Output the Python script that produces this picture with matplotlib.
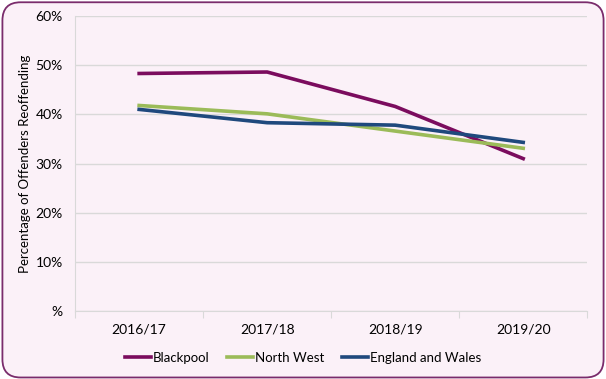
import matplotlib.pyplot as plt
from matplotlib.patches import FancyBboxPatch
from matplotlib.ticker import FuncFormatter

# -----------------------------------------
# Data
# -----------------------------------------
years = ["2016/17", "2017/18", "2018/19", "2019/20"]
blackpool = [48.3, 48.6, 41.6, 31.0]
north_west = [41.8, 40.1, 36.6, 33.1]
england_wales = [41.0, 38.3, 37.8, 34.3]

# -----------------------------------------
# Style
# -----------------------------------------
plt.rcParams["font.family"] = ["Lato", "DejaVu Sans"]
bg = "#FBF1F8"

fig = plt.figure(figsize=(6.06, 3.79), dpi=100)
fig.patch.set_facecolor("white")

# Rounded purple frame (behind the axes)
frame = FancyBboxPatch(
    (0.004, 0.004), 0.992, 0.990,
    boxstyle="round,pad=0,rounding_size=0.03",
    transform=fig.transFigure,
    facecolor=bg, edgecolor="#7A2C6C", linewidth=1.3,
    mutation_aspect=606 / 379, zorder=-10,
)
fig.patches.append(frame)

ax = fig.add_axes([0.124, 0.179, 0.845, 0.779])
ax.set_facecolor(bg)

x = list(range(len(years)))
ax.plot(x, blackpool, color="#7B0C5E", lw=2.6, label="Blackpool")
ax.plot(x, north_west, color="#9BBB59", lw=2.6, label="North West")
ax.plot(x, england_wales, color="#1F497D", lw=2.6, label="England and Wales")

ax.set_xlim(-0.5, len(years) - 0.5)
ax.set_ylim(0, 60)
ax.set_yticks(range(0, 61, 10))
ax.yaxis.set_major_formatter(
    FuncFormatter(lambda v, p: "%" if v == 0 else f"{int(v)}%"))
ax.grid(axis="y", color="#D9D9D9", lw=1)
ax.set_axisbelow(True)

# category labels between boundary ticks
ax.set_xticks([i - 0.5 for i in range(len(years) + 1)])
ax.set_xticklabels([])
ax.set_xticks(x, minor=True)
ax.set_xticklabels(years, minor=True)
ax.tick_params(axis="x", which="major", length=5, color="#D9D9D9")
ax.tick_params(axis="x", which="minor", length=0, labelsize=10, pad=9)
ax.tick_params(axis="y", length=0, labelsize=10, pad=9)

for s in ["top", "right"]:
    ax.spines[s].set_visible(False)
ax.spines["left"].set_color("#D9D9D9")
ax.spines["bottom"].set_color("#D9D9D9")

ax.set_ylabel("Percentage of Offenders Reoffending", fontsize=9.5, labelpad=3)

fig.legend(
    loc="center", bbox_to_anchor=(0.5, 0.056), ncol=3, frameon=False,
    fontsize=9.5, handlelength=2.0, handletextpad=0.15, columnspacing=1.3,
)

fig.savefig("out.png", dpi=100, facecolor=fig.get_facecolor())
